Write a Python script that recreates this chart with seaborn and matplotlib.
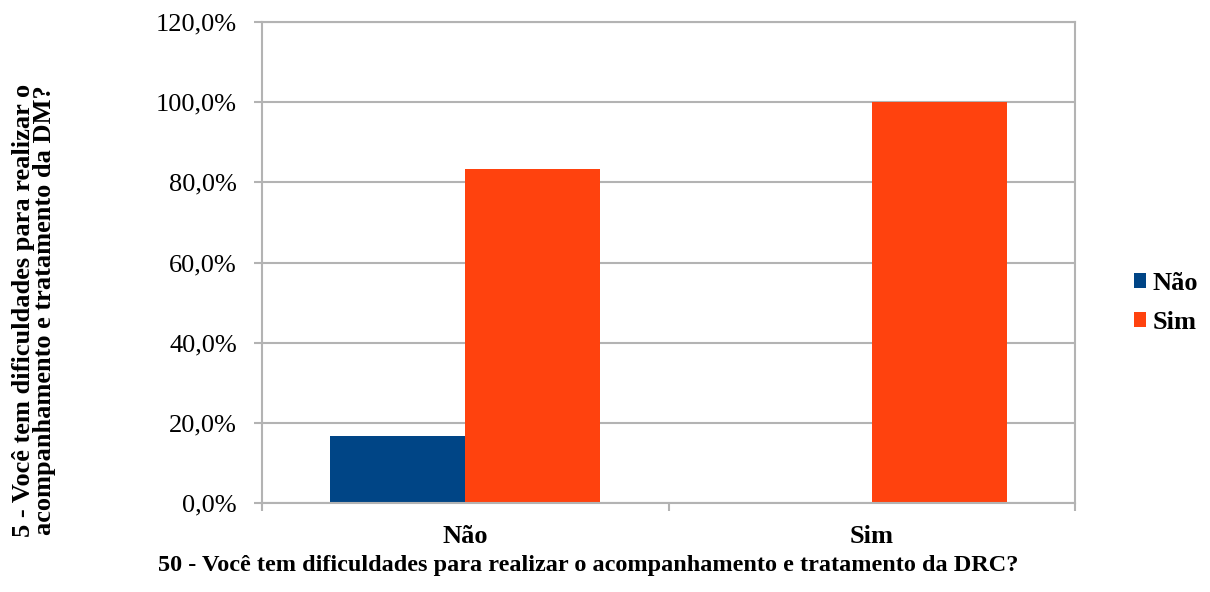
import matplotlib
matplotlib.use("Agg")
import matplotlib.pyplot as plt
import seaborn as sns
import pandas as pd
from matplotlib.ticker import FuncFormatter, FixedLocator

categories = ["Não", "Sim"]
series_names = ["Não", "Sim"]
values_nao = [16.7, 0.0]
values_sim = [83.3, 100.0]
colors = ["#004586", "#FF420E"]

df = pd.DataFrame({
    "cat": categories * 2,
    "serie": [series_names[0]] * 2 + [series_names[1]] * 2,
    "val": values_nao + values_sim,
})

sns.set_style("white")
plt.rcParams["font.family"] = ["Liberation Serif", "DejaVu Serif"]
plt.rcParams["text.color"] = "black"
plt.rcParams["xtick.labelcolor"] = "black"
plt.rcParams["ytick.labelcolor"] = "black"

fig = plt.figure(figsize=(12.1, 5.92), dpi=100)
ax = fig.add_axes([262 / 1210, 1 - 503 / 592, (1075 - 262) / 1210, (503 - 22) / 592])

sns.barplot(data=df, x="cat", y="val", hue="serie", order=categories,
            hue_order=series_names, palette=colors, width=0.665, gap=0,
            saturation=1, ax=ax, linewidth=0, edgecolor="none", legend=True)

grey = "#b3b3b3"
ax.set_ylim(0, 120)
ax.set_xlim(-0.5, 1.5)
ax.set_yticks(range(0, 121, 20))
ax.yaxis.set_major_formatter(FuncFormatter(lambda v, p: f"{v:.1f}%".replace(".", ",")))
ax.grid(axis="y", color=grey, linewidth=1.5)
ax.set_axisbelow(True)
for s in ax.spines.values():
    s.set_color(grey)
    s.set_linewidth(1.5)
ax.tick_params(axis="y", which="major", length=6, color=grey, width=1.5,
               labelsize=19, pad=12, left=True, labelcolor="black")
ax.tick_params(axis="x", which="major", length=0, labelsize=19, pad=16, labelcolor="black")
ax.xaxis.set_minor_locator(FixedLocator([-0.5, 0.5, 1.5]))
ax.tick_params(axis="x", which="minor", length=6, color=grey, width=1.5, bottom=True)
for t in ax.get_xticklabels():
    t.set_fontweight("bold")
ax.set_xlabel("")
ax.set_ylabel("")

leg = ax.legend(loc="center left", bbox_to_anchor=(1.043, 0.416), frameon=False,
                prop={"weight": "bold", "size": 19}, handlelength=0.45,
                handleheight=0.45, handletextpad=0.27, labelspacing=0.6)

fig.text(588 / 1210, 1 - 566 / 592,
         "50 - Você tem dificuldades para realizar o acompanhamento e tratamento da DRC?",
         ha="center", va="center", fontsize=17.5, fontweight="bold")
fig.text(34 / 1210, 1 - 310 / 592,
         "5 - Você tem dificuldades para realizar o\nacompanhamento e tratamento da DM?",
         ha="center", va="center", rotation=90, fontsize=19, fontweight="bold",
         linespacing=0.9)

fig.savefig("out.png", dpi=100)
